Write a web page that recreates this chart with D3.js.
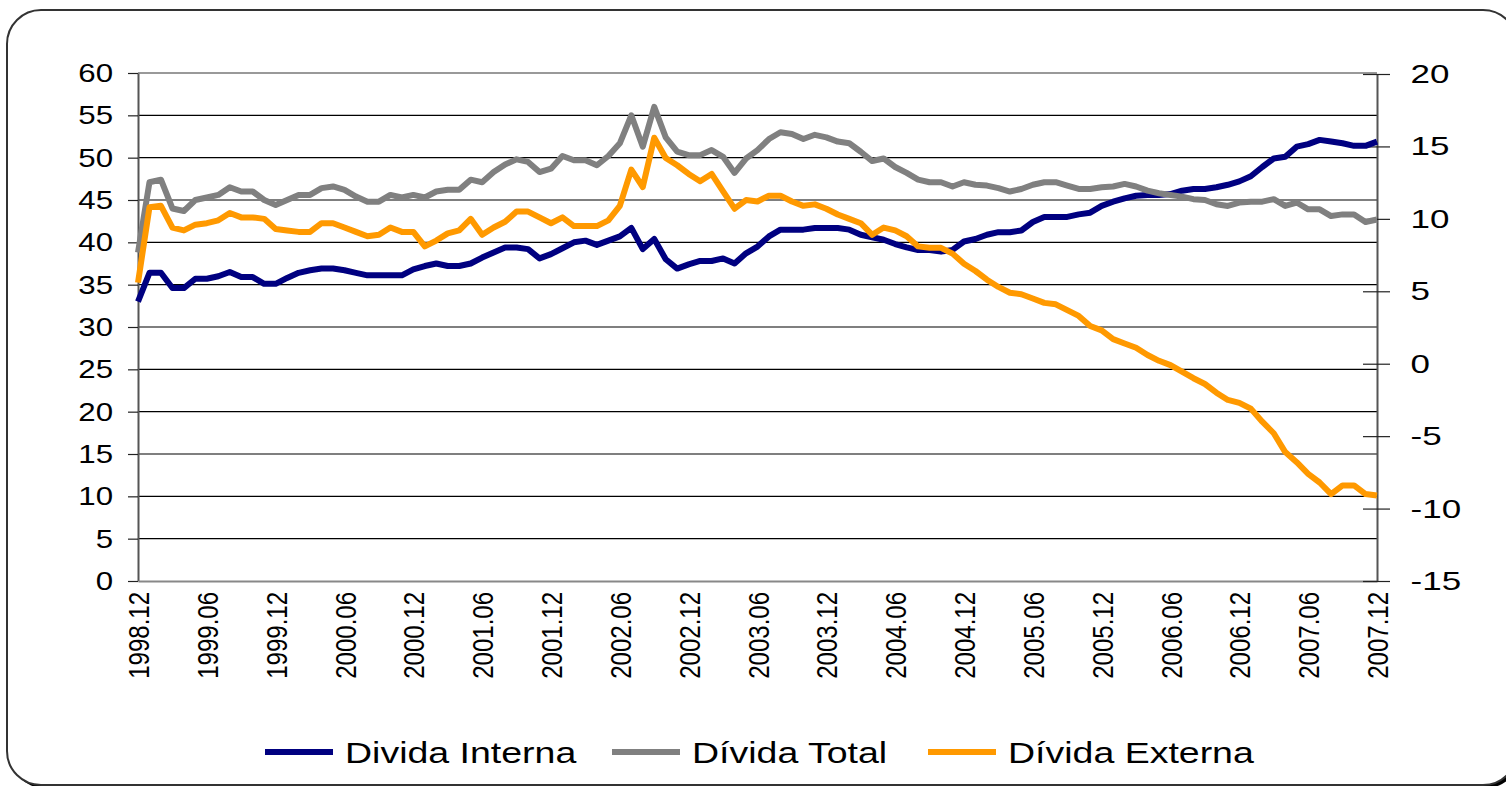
<!DOCTYPE html>
<html>
<head>
<meta charset="utf-8">
<script src="https://cdn.jsdelivr.net/npm/d3@7"></script>
<style>
  body { margin: 0; background: #fff; }
  text { font-family: "Liberation Sans", Arial, sans-serif; fill: #000; }
</style>
</head>
<body>
<div id="chart"></div>
<script>
// month labels 1998.12 .. 2007.12
let months = ["1998.12"];
for (let y = 1999; y <= 2007; y++) {
  for (let m = 1; m <= 12; m++) months.push(y + "." + (m < 10 ? "0" + m : m));
}
let tickLabels = months.filter((d, i) => i % 6 === 0);

let leftTicks = [0, 5, 10, 15, 20, 25, 30, 35, 40, 45, 50, 55, 60];
let rightTicks = [-15, -10, -5, 0, 5, 10, 15, 20];

let seriesNames = ["Divida Interna", "Dívida Total", "Dívida Externa"];

let interna = [33.0, 36.4, 36.4, 34.6, 34.6, 35.7, 35.7, 36.0, 36.5, 35.9, 35.9, 35.1, 35.1, 35.8, 36.4, 36.7, 36.9, 36.9, 36.7, 36.4,
  36.1, 36.1, 36.1, 36.1, 36.8, 37.2, 37.5, 37.2, 37.2, 37.5, 38.2, 38.8, 39.4, 39.4, 39.2, 38.1, 38.6, 39.3, 40.0, 40.2,
  39.7, 40.2, 40.7, 41.7, 39.2, 40.4, 38.0, 36.9, 37.4, 37.8, 37.8, 38.1, 37.5, 38.7, 39.5, 40.7, 41.5, 41.5, 41.5, 41.7,
  41.7, 41.7, 41.5, 40.9, 40.6, 40.3, 39.8, 39.4, 39.1, 39.1, 38.9, 39.1, 40.1, 40.4, 40.9, 41.2, 41.2, 41.4, 42.4, 43.0,
  43.0, 43.0, 43.3, 43.5, 44.3, 44.8, 45.2, 45.5, 45.6, 45.6, 45.7, 46.1, 46.3, 46.3, 46.5, 46.8, 47.2, 47.8, 48.9, 49.9,
  50.1, 51.3, 51.6, 52.1, 51.9, 51.7, 51.4, 51.4, 51.9];

let total = [38.8, 47.1, 47.4, 44.0, 43.7, 45.0, 45.3, 45.6, 46.5, 46.0, 46.0, 45.0, 44.4, 45.0, 45.6, 45.6, 46.4, 46.6, 46.2, 45.4,
  44.8, 44.8, 45.6, 45.3, 45.6, 45.3, 46.0, 46.2, 46.2, 47.4, 47.1, 48.3, 49.2, 49.8, 49.5, 48.3, 48.7, 50.2, 49.7, 49.7,
  49.1, 50.2, 51.7, 55.0, 51.3, 56.0, 52.4, 50.7, 50.3, 50.3, 50.9, 50.1, 48.2, 49.9, 50.9, 52.2, 53.0, 52.8, 52.2, 52.7,
  52.4, 51.9, 51.7, 50.7, 49.6, 49.9, 48.9, 48.2, 47.4, 47.1, 47.1, 46.6, 47.1, 46.8, 46.7, 46.4, 46.0, 46.3, 46.8, 47.1,
  47.1, 46.7, 46.3, 46.3, 46.5, 46.6, 46.9, 46.6, 46.1, 45.8, 45.6, 45.4, 45.1, 45.0, 44.5, 44.3, 44.7, 44.8, 44.8, 45.1,
  44.3, 44.7, 43.9, 43.9, 43.1, 43.3, 43.3, 42.4, 42.7];

let externa = [5.6, 10.8, 10.9, 9.4, 9.2, 9.6, 9.7, 9.9, 10.4, 10.1, 10.1, 10.0, 9.3, 9.2, 9.1, 9.1, 9.7, 9.7, 9.4, 9.1,
  8.8, 8.9, 9.4, 9.1, 9.1, 8.1, 8.5, 9.0, 9.2, 10.0, 8.9, 9.4, 9.8, 10.5, 10.5, 10.1, 9.7, 10.1, 9.5, 9.5,
  9.5, 9.9, 10.9, 13.4, 12.2, 15.6, 14.2, 13.7, 13.1, 12.6, 13.1, 11.9, 10.7, 11.3, 11.2, 11.6, 11.6, 11.2, 10.9, 11.0,
  10.7, 10.3, 10.0, 9.7, 8.9, 9.4, 9.2, 8.8, 8.1, 8.0, 8.0, 7.6, 6.9, 6.4, 5.8, 5.3, 4.9, 4.8, 4.5, 4.2,
  4.1, 3.7, 3.3, 2.6, 2.3, 1.7, 1.4, 1.1, 0.6, 0.2, -0.1, -0.55, -1.0, -1.4, -2.0, -2.5, -2.7, -3.1, -4.0, -4.8,
  -6.1, -6.8, -7.6, -8.2, -9.0, -8.4, -8.4, -9.0, -9.1];

let colors = ["#000080", "#808080", "#FF9900"];

const W = 1506, H = 786;
const plotLeft = 138, plotRight = 1377, plotTop = 73, plotBottom = 581;
const SX = 1.25; // the source picture is stretched sideways

let svg = d3.select("#chart").append("svg")
  .attr("width", W)
  .attr("height", H);

// rounded frame with a little shadow under it
svg.append("rect")
  .attr("x", 10).attr("y", 13)
  .attr("width", 1510).attr("height", 775)
  .attr("rx", 34)
  .attr("fill", "#000");
svg.append("rect")
  .attr("x", 7).attr("y", 10)
  .attr("width", 1510).attr("height", 775)
  .attr("rx", 34)
  .attr("fill", "#fff")
  .attr("stroke", "#333")
  .attr("stroke-width", 2);

let x = d3.scalePoint().domain(months).range([plotLeft, plotRight]);
let yL = d3.scaleLinear().domain([0, 60]).range([plotBottom, plotTop]);
let yR = d3.scaleLinear().domain([-15, 20]).range([plotBottom, plotTop + 1]);

// gridlines
svg.append("g")
  .selectAll("line")
  .data(leftTicks.filter(t => t > 0 && t < 60))
  .join("line")
  .attr("x1", plotLeft).attr("x2", plotRight)
  .attr("y1", d => yL(d)).attr("y2", d => yL(d))
  .attr("stroke", "#000")
  .attr("stroke-width", 1.2);

// top border of the plot
svg.append("line")
  .attr("x1", plotLeft).attr("x2", plotRight)
  .attr("y1", yL(60)).attr("y2", yL(60))
  .attr("stroke", "#999").attr("stroke-width", 2);

// left axis
let gL = svg.append("g")
  .attr("transform", `translate(${plotLeft},0)`)
  .call(d3.axisLeft(yL).tickValues(leftTicks).tickSize(10).tickSizeOuter(0));
gL.select(".domain").attr("stroke", "#555").attr("stroke-width", 2);
gL.selectAll(".tick line").attr("stroke", "#222").attr("stroke-width", 1.2);
gL.selectAll(".tick text")
  .attr("x", -20)
  .attr("dy", "0.34em")
  .attr("transform", `scale(${SX},1)`)
  .style("font-size", "25px")
  .style("font-family", "'Liberation Sans', Arial, sans-serif")
  .attr("fill", "#000");

// bottom axis
let gB = svg.append("g")
  .attr("transform", `translate(0,${plotBottom})`)
  .call(d3.axisBottom(x).tickValues(tickLabels).tickSize(0).tickSizeOuter(0));
gB.select(".domain").attr("stroke", "#888").attr("stroke-width", 2);
gB.selectAll(".tick text")
  .attr("x", 0).attr("y", 0)
  .attr("dy", "0.35em")
  .attr("text-anchor", "end")
  .attr("transform", `translate(0,11) scale(${SX},1) rotate(-90)`)
  .style("font-size", "24px")
  .style("font-family", "'Liberation Sans', Arial, sans-serif")
  .attr("fill", "#000");

// right axis, ticks cross the line, plain hyphen for negatives
let gR = svg.append("g")
  .attr("transform", `translate(${plotRight},0)`)
  .call(d3.axisRight(yR).tickValues(rightTicks).tickFormat(d => String(d)).tickSize(13).tickSizeOuter(0));
gR.select(".domain").attr("stroke", "#555").attr("stroke-width", 2);
gR.selectAll(".tick line").attr("x1", -14).attr("stroke", "#222").attr("stroke-width", 1.2);
gR.selectAll(".tick text")
  .attr("x", 24)
  .attr("dy", "0.34em")
  .attr("transform", "scale(1.4,1)")
  .style("font-size", "25px")
  .style("font-family", "'Liberation Sans', Arial, sans-serif")
  .attr("fill", "#000");

// lines
let lineL = d3.line().x((d, i) => x(months[i])).y(d => yL(d));
let lineR = d3.line().x((d, i) => x(months[i])).y(d => yR(d));

let series = [
  {values: interna, line: lineL},
  {values: total, line: lineL},
  {values: externa, line: lineR}
];

series.forEach((s, k) => {
  svg.append("path")
    .datum(s.values)
    .attr("d", s.line)
    .attr("fill", "none")
    .attr("stroke", colors[k])
    .attr("stroke-width", 6)
    .attr("stroke-linejoin", "round");
});

// legend
let legendX = [265, 612, 928];
let legend = svg.append("g");
seriesNames.forEach((name, k) => {
  legend.append("line")
    .attr("x1", legendX[k]).attr("x2", legendX[k] + 68)
    .attr("y1", 752).attr("y2", 752)
    .attr("stroke", colors[k])
    .attr("stroke-width", 6);
  legend.append("text")
    .attr("transform", `translate(${legendX[k] + 80},752) scale(${SX},1)`)
    .attr("dy", "0.35em")
    .style("font-size", "30px")
    .text(name);
});
</script>
</body>
</html>
